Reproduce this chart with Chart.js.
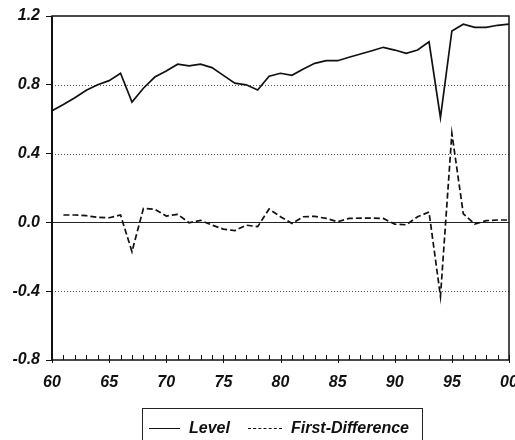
<!DOCTYPE html>
<html>
<head>
<meta charset="utf-8">
<script src="https://cdn.jsdelivr.net/npm/chart.js@4/dist/chart.umd.min.js"></script>
<style>
  body { margin: 0; background: #fff; }
  #wrap { position: relative; width: 515px; height: 440px; overflow: hidden; }
  #legend {
    position: absolute; left: 142px; top: 408px; width: 281px; height: 40px;
    border: 1px solid #222; box-sizing: border-box;
    font: italic bold 16px "Liberation Sans", Arial, sans-serif; color: #111;
  }
  #legend .item { position: absolute; top: 10px; white-space: nowrap; }
  #legend .sample { display: inline-block; width: 31px; vertical-align: middle; margin-right: 9px; }
</style>
</head>
<body>
<div id="wrap">
  <canvas id="chart" width="515" height="440"></canvas>
  <div id="legend">
    <span class="item" style="left:6px"><span class="sample" style="border-top:1.5px solid #111"></span>Level</span>
    <span class="item" style="left:105px"><span class="sample" style="border-top:1.5px dashed #111;width:34px"></span>First-Difference</span>
  </div>
</div>
<script>
// Années (60 = 1960 ... 100 = 2000)
const years = [60, 61, 62, 63, 64, 65, 66, 67, 68, 69, 70, 71, 72, 73, 74, 75, 76, 77, 78, 79, 80,
               81, 82, 83, 84, 85, 86, 87, 88, 89, 90, 91, 92, 93, 94, 95, 96, 97, 98, 99, 100];

// Série en niveau
const levelValues = [0.649, 0.686, 0.725, 0.768, 0.800, 0.824, 0.867, 0.700, 0.780, 0.845, 0.880,
                     0.920, 0.910, 0.920, 0.900, 0.855, 0.810, 0.800, 0.770, 0.850, 0.867,
                     0.855, 0.892, 0.925, 0.940, 0.940, 0.960, 0.979, 0.998, 1.018, 1.002,
                     0.983, 1.002, 1.050, 0.609, 1.113, 1.152, 1.134, 1.134, 1.146, 1.153];

// Première différence (à partir de 1961)
const diffValues = [null, 0.043, 0.043, 0.039, 0.029, 0.027, 0.043, -0.170, 0.081, 0.076, 0.037,
                    0.047, -0.002, 0.012, -0.016, -0.039, -0.048, -0.016, -0.025, 0.078, 0.033,
                    -0.006, 0.033, 0.035, 0.023, 0.004, 0.023, 0.025, 0.025, 0.023, -0.010,
                    -0.014, 0.033, 0.060, -0.430, 0.518, 0.050, -0.010, 0.010, 0.014, 0.014];

// Graduations de l'axe Y
const yTicks = [1.2, 0.8, 0.4, 0.0, -0.4, -0.8];

const tickFont = { family: '"Liberation Sans", Arial, sans-serif', size: 16, style: 'italic', weight: 'bold' };

/**
 * Cadre, grille pointillée et petites graduations annuelles
 */
const framePlugin = {
    id: 'frame',
    beforeDatasetsDraw(chart) {
        const { ctx, chartArea: a, scales } = chart;
        ctx.save();
        // lignes horizontales
        yTicks.forEach(v => {
            if (v === 1.2 || v === -0.8) return;
            const y = Math.round(scales.y.getPixelForValue(v)) + 0.5;
            ctx.beginPath();
            if (v === 0) {
                ctx.setLineDash([]);
                ctx.strokeStyle = '#222';
                ctx.lineWidth = 1;
            } else {
                ctx.setLineDash([1, 2]);
                ctx.strokeStyle = '#555';
                ctx.lineWidth = 1;
            }
            ctx.moveTo(a.left, y);
            ctx.lineTo(a.right, y);
            ctx.stroke();
        });
        // graduations annuelles vers l'intérieur
        ctx.setLineDash([]);
        ctx.strokeStyle = '#111';
        ctx.lineWidth = 1;
        years.forEach(yr => {
            const x = Math.round(scales.x.getPixelForValue(yr)) + 0.5;
            ctx.beginPath();
            ctx.moveTo(x, a.bottom);
            ctx.lineTo(x, a.bottom - 5);
            if (yr % 5 === 0) ctx.lineTo(x, a.bottom + 3);
            ctx.stroke();
        });
        ctx.restore();
    },
    afterDraw(chart) {
        const { ctx, chartArea: a } = chart;
        ctx.save();
        ctx.strokeStyle = '#111';
        ctx.lineWidth = 1.5;
        ctx.strokeRect(a.left, a.top, a.right - a.left, a.bottom - a.top);
        ctx.lineWidth = 2;
        ctx.beginPath();
        ctx.moveTo(a.left, a.top);
        ctx.lineTo(a.left, a.bottom);
        ctx.stroke();
        ctx.restore();
    }
};

const ctxChart = document.getElementById('chart');
new Chart(ctxChart, {
    type: 'line',
    data: {
        datasets: [{
            label: 'Level',
            data: years.map((x, i) => ({ x: x, y: levelValues[i] })),
            borderColor: '#111',
            borderWidth: 1.7,
            pointRadius: 0,
            tension: 0
        }, {
            label: 'First-Difference',
            data: years.map((x, i) => ({ x: x, y: diffValues[i] })),
            borderColor: '#111',
            borderWidth: 1.7,
            borderDash: [6, 3],
            pointRadius: 0,
            tension: 0
        }]
    },
    options: {
        responsive: false,
        animation: false,
        layout: { padding: { left: 0, right: 6, top: 16, bottom: 0 } },
        plugins: {
            legend: { display: false },
            tooltip: { enabled: false }
        },
        scales: {
            x: {
                type: 'linear',
                min: 60,
                max: 100,
                grid: { display: false },
                border: { display: false },
                ticks: {
                    stepSize: 5,
                    autoSkip: false,
                    maxRotation: 0,
                    padding: 5,
                    color: '#111',
                    font: tickFont,
                    callback: v => (v === 100 ? '00' : String(v))
                },
                afterFit: scale => {
                    scale.height = 80;
                    scale.paddingLeft = 0;
                    scale.paddingRight = 0;
                }
            },
            y: {
                min: -0.8,
                max: 1.2,
                grid: { drawOnChartArea: false, drawTicks: true, tickLength: 6, color: '#111' },
                border: { display: false },
                afterBuildTicks: scale => {
                    scale.ticks = yTicks.map(v => ({ value: v }));
                },
                ticks: {
                    padding: 6,
                    color: '#111',
                    font: tickFont,
                    callback: v => v.toFixed(1)
                },
                afterFit: scale => {
                    scale.width = 52;
                    scale.paddingTop = 0;
                    scale.paddingBottom = 0;
                }
            }
        }
    },
    plugins: [framePlugin]
});
</script>
</body>
</html>
